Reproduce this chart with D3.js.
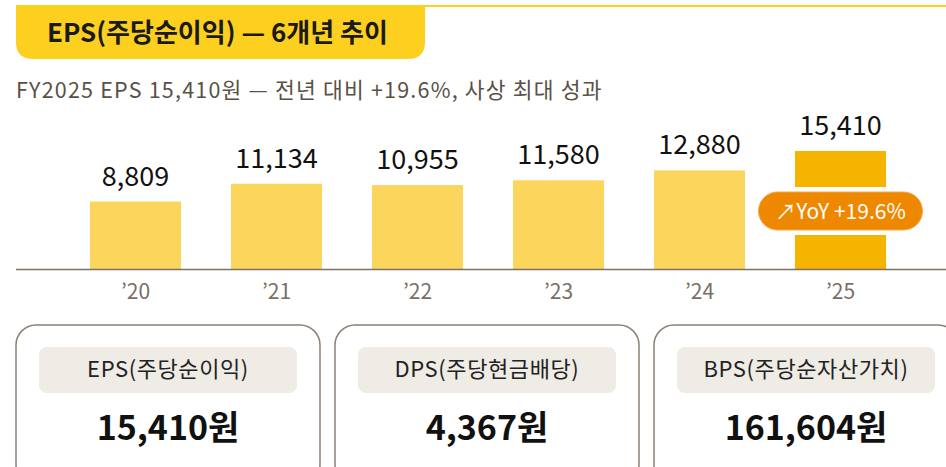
<!DOCTYPE html>
<html>
<head>
<meta charset="utf-8">
<script src="https://cdn.jsdelivr.net/npm/d3@7/dist/d3.min.js"></script>
<style>
  html, body { margin: 0; padding: 0; background: #fff; overflow: hidden; }
  svg { display: block; font-family: "Noto Sans CJK KR", "Noto Sans", sans-serif; }
</style>
</head>
<body>
<svg id="chart" width="946" height="467"></svg>
<script>
// data
const title = "EPS(주당순이익) — 6개년 추이";
const subtitle = "FY2025 EPS 15,410원 — 전년 대비 +19.6%, 사상 최대 성과";
const years = ["’20", "’21", "’22", "’23", "’24", "’25"];
const eps = [8809, 11134, 10955, 11580, 12880, 15410];
const yoyLabel = "↗YoY +19.6%";
const cardLabels = ["EPS(주당순이익)", "DPS(주당현금배당)", "BPS(주당순자산가치)"];
const cardValues = [15410, 4367, 161604];

const width = 946, height = 467;
const baseline = 269;
const fmt = d3.format(",");

const svg = d3.select("#chart");

// header
svg.append("line")
	.attr("x1", 16).attr("x2", width)
	.attr("y1", 6).attr("y2", 6)
	.attr("stroke", "#fdd01f")
	.attr("stroke-width", 2.2);

const tx0 = 16, tx1 = 425, ty0 = 5, ty1 = 59, r = 17;
svg.append("path")
	.attr("d", `M${tx0},${ty0} H${tx1} V${ty1 - r} Q${tx1},${ty1} ${tx1 - r},${ty1} H${tx0 + r} Q${tx0},${ty1} ${tx0},${ty1 - r} Z`)
	.attr("fill", "#fdd01f");

svg.append("text")
	.text(title)
	.attr("x", 47).attr("y", 42)
	.attr("font-size", 26)
	.attr("font-weight", 700)
	.attr("fill", "#1a1a1a");

svg.append("text")
	.text(subtitle)
	.attr("x", 16).attr("y", 98)
	.attr("font-size", 21.5)
	.attr("letter-spacing", 1.2)
	.attr("fill", "#5a5046");

// bars
const x = d3.scaleBand()
	.domain(years)
	.range([65, 911])
	.paddingInner(50 / 141)
	.paddingOuter(25 / 141);

const y = d3.scaleLinear()
	.domain([0, d3.max(eps)])
	.range([baseline, 151]);

const bars = svg.append("g").classed("bars", true);

bars.selectAll("rect")
	.data(eps)
	.join("rect")
	.attr("x", (d, i) => x(years[i]))
	.attr("y", d => y(d))
	.attr("width", x.bandwidth())
	.attr("height", d => baseline - y(d))
	.attr("fill", (d, i) => i === eps.length - 1 ? "#f5b400" : "#fcd55c");

bars.selectAll("text")
	.data(eps)
	.join("text")
	.text(d => fmt(d))
	.attr("x", (d, i) => x(years[i]) + x.bandwidth() / 2)
	.attr("y", d => y(d) - 16)
	.attr("text-anchor", "middle")
	.attr("font-size", 27)
	.attr("fill", "#111");

// axis
const axis = svg.append("g")
	.attr("transform", `translate(0,${baseline})`)
	.call(d3.axisBottom(x).tickSize(0).tickPadding(15));
axis.select(".domain").remove();
axis.selectAll("text")
	.attr("font-size", 21)
	.attr("font-family", "\"Noto Sans CJK KR\", sans-serif")
	.attr("fill", "#7a6e64")
	.attr("dy", "0.71em");
svg.append("line")
	.attr("x1", 16).attr("x2", width)
	.attr("y1", baseline + 0.5).attr("y2", baseline + 0.5)
	.attr("stroke", "#7d7064")
	.attr("stroke-width", 1.5);

// YoY badge on the last bar
const last = years[years.length - 1];
const badge = svg.append("g")
	.attr("transform", `translate(${x(last) + x.bandwidth() / 2},211)`);
badge.append("rect")
	.attr("x", -87).attr("y", -24)
	.attr("width", 174).attr("height", 48)
	.attr("rx", 24)
	.attr("fill", "#fff");
badge.append("rect")
	.attr("x", -82).attr("y", -19)
	.attr("width", 164).attr("height", 38)
	.attr("rx", 19)
	.attr("fill", "#ee8800")
	.attr("stroke", "#f4a94a")
	.attr("stroke-width", 1);
badge.append("text")
	.text(yoyLabel)
	.attr("x", 0).attr("y", 8)
	.attr("text-anchor", "middle")
	.attr("font-size", 21)
	.attr("fill", "#fff");

// summary cards
const cx = d3.scaleBand()
	.domain(d3.range(cardLabels.length))
	.range([16, 958])
	.paddingInner(15 / 319);

const cards = svg.append("g").classed("cards", true)
	.selectAll("g")
	.data(cardLabels)
	.join("g")
	.attr("transform", (d, i) => `translate(${cx(i)},325)`);

cards.append("rect")
	.attr("x", 0).attr("y", 0)
	.attr("width", cx.bandwidth()).attr("height", 160)
	.attr("rx", 20)
	.attr("fill", "#fff")
	.attr("stroke", "#8c8076")
	.attr("stroke-width", 1.5);

cards.append("rect")
	.attr("x", 23).attr("y", 22)
	.attr("width", cx.bandwidth() - 46).attr("height", 46)
	.attr("rx", 8)
	.attr("fill", "#efebe5");

cards.append("text")
	.text(d => d)
	.attr("x", cx.bandwidth() / 2).attr("y", 52)
	.attr("text-anchor", "middle")
	.attr("font-size", 22)
	.attr("letter-spacing", 0.6)
	.attr("fill", "#222");

cards.append("text")
	.text((d, i) => fmt(cardValues[i]) + "원")
	.attr("x", cx.bandwidth() / 2).attr("y", 115)
	.attr("text-anchor", "middle")
	.attr("font-size", 34)
	.attr("font-weight", 700)
	.attr("fill", "#111");
</script>
</body>
</html>
